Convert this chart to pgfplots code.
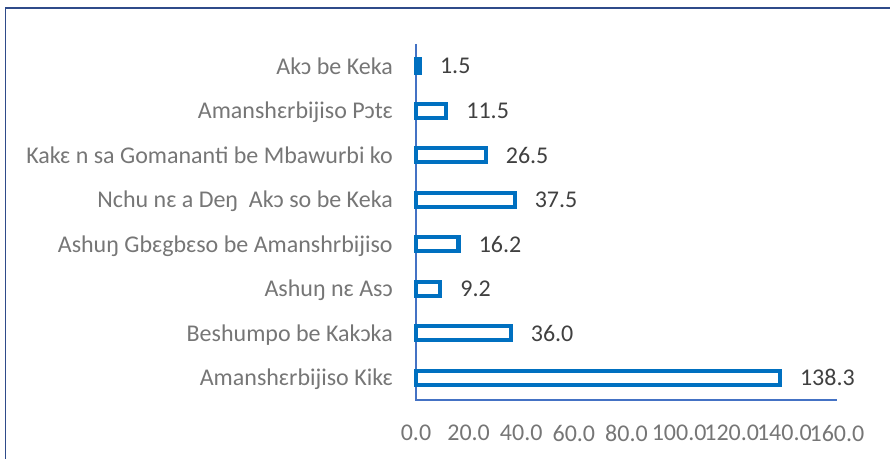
\documentclass[border=0pt]{standalone}
\usepackage{pgfplots}
\pgfplotsset{compat=1.18}
\usepackage{fontspec}
\setmainfont{Carlito}
\definecolor{barblue}{HTML}{0070C0}
\definecolor{axblue}{HTML}{4472C4}
\definecolor{frameblue}{HTML}{2F4B8A}
\definecolor{lblgray}{HTML}{767676}
\definecolor{valgray}{HTML}{404040}
\begin{document}
\begin{tikzpicture}[x=0.75pt,y=0.75pt]
\useasboundingbox (0,0) rectangle (890,459);
\draw[frameblue, line width=1.3pt] (5.5,-5) -- (5.5,451) -- (895,451);
\begin{axis}[
  at={(312pt,44.25pt)}, anchor=south west,
  scale only axis,
  width=315.75pt, height=267pt,
  xmin=0, xmax=160, ymin=-0.5, ymax=7.5,
  xbar, bar width=10.5pt,
  axis x line*=bottom, axis y line*=left,
  axis line style={draw=none},
  /pgf/number format/assume math mode=true,
  major tick length=0pt,
  xtick={0,20,...,160},
  xticklabel={\pgfmathprintnumber[fixed,fixed zerofill,precision=1]{\tick}},
  x tick label style={lblgray, font=\fontsize{18}{20}\selectfont, anchor=center, inner sep=0pt, yshift=-24.75pt},
  ytick={0,...,7},
  yticklabels={Amanshɛrbijiso Kikɛ, Beshumpo be Kakɔka, Ashuŋ nɛ Asɔ, Ashuŋ Gbɛgbɛso be Amanshrbijiso, Nchu nɛ a Deŋ\ \ Akɔ so be Keka, Kakɛ n sa Gomananti be Mbawurbi ko, Amanshɛrbijiso Pɔtɛ, Akɔ be Keka},
  y tick label style={lblgray, font=\fontsize{18}{20}\selectfont, anchor=base east, inner sep=0pt, xshift=-17.25pt, yshift=-6pt},
  nodes near coords={\pgfmathprintnumber[fixed,fixed zerofill,precision=1]{\pgfplotspointmeta}},
  every node near coord/.append style={valgray, font=\fontsize{18}{20}\selectfont, anchor=west, inner sep=0pt, xshift=13.5pt},
  clip=false,
]
\draw[axblue, line width=1.8pt] (rel axis cs:0,1) -- (rel axis cs:0,0) -- (rel axis cs:1,0);
\addplot[draw=barblue, fill=white, line width=3.2pt] coordinates {
  (138.3,0) (36.0,1) (9.2,2) (16.2,3) (37.5,4) (26.5,5) (11.5,6) (1.5,7)
};
\end{axis}
\end{tikzpicture}
\end{document}
